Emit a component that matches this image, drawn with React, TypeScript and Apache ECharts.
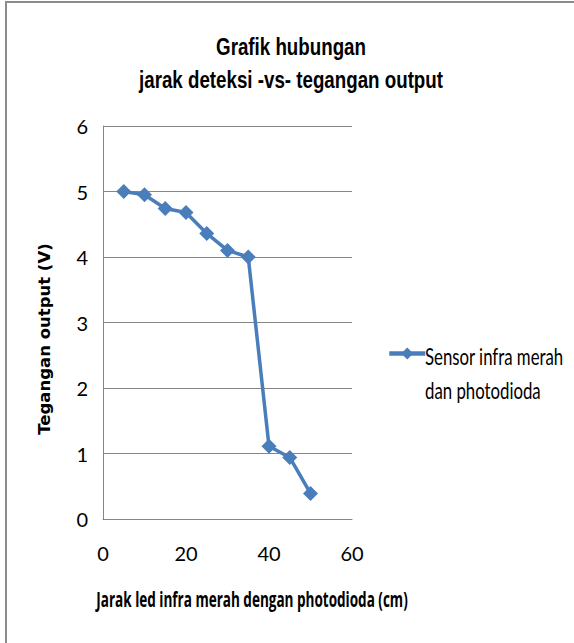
import React, { useEffect, useRef } from "react";
import * as echarts from "echarts";

const distances = [5, 10, 15, 20, 25, 30, 35, 40, 45, 50];
const voltages = [5.0, 4.95, 4.74, 4.68, 4.36, 4.1, 4.0, 1.11, 0.94, 0.39];
const seriesNameLines = ["Sensor infra merah", "dan photodioda"];
const titleLines = ["Grafik hubungan", "jarak deteksi -vs- tegangan output"];
const xName = "Jarak led infra merah dengan photodioda (cm)";
const yName = "Tegangan output (V)";

const sans = "'Liberation Sans', Arial, sans-serif";
const calib = "Lato, 'Open Sans', sans-serif";
const blue = "#4a7ebb";

function scaledText(text: string, x: number, y: number, sx: number, style: any, align = "center") {
  return {
    type: "group",
    x,
    y,
    scaleX: sx,
    children: [
      {
        type: "text",
        style: { text, align, verticalAlign: "middle", fill: "#000", ...style },
      },
    ],
  };
}

export default function App() {
  const ref = useRef<HTMLDivElement>(null);
  useEffect(() => {
    document.body.style.margin = "0";
    const chart = echarts.init(ref.current!, null, { renderer: "svg" });
    chart.setOption({
      animation: false,
      backgroundColor: "#ffffff",
      grid: { left: 103, right: 222, top: 126, bottom: 124, containLabel: false },
      xAxis: {
        type: "value",
        min: 0,
        max: 60,
        interval: 20,
        axisLine: { show: true, lineStyle: { color: "#868686", width: 1 } },
        axisTick: { show: false },
        splitLine: { show: false },
        axisLabel: { margin: 24, fontFamily: calib, fontSize: 20, color: "#000" },
      },
      yAxis: {
        type: "value",
        min: 0,
        max: 6,
        interval: 1,
        axisLine: { show: true, lineStyle: { color: "#868686", width: 1 } },
        axisTick: { show: false },
        splitLine: { show: true, lineStyle: { color: "#868686", width: 1 } },
        axisLabel: { margin: 15, fontFamily: calib, fontSize: 20, color: "#000" },
      },
      legend: {
        orient: "vertical",
        left: 382,
        top: 341,
        padding: 5,
        itemWidth: 36,
        itemHeight: 15,
        formatter: () => "",
        lineStyle: { width: 4.5 },
        data: [seriesNameLines.join(" ")],
      },
      series: [
        {
          name: seriesNameLines.join(" "),
          type: "line",
          data: distances.map((d, i) => [d, voltages[i]]),
          symbol: "diamond",
          symbolSize: 15,
          itemStyle: { color: blue },
          lineStyle: { color: blue, width: 3.5 },
        },
      ],
      graphic: [
        {
          type: "rect",
          shape: { x: 6, y: 2, width: 620, height: 700 },
          style: { fill: "none", stroke: "#8c8c8c", lineWidth: 2 },
          silent: true,
        },
        scaledText(titleLines[0], 291, 47, 0.815, {
          fontFamily: sans,
          fontSize: 23,
          fontWeight: "bold",
        }),
        scaledText(titleLines[1], 291, 80, 0.815, {
          fontFamily: sans,
          fontSize: 23,
          fontWeight: "bold",
        }),
        scaledText(xName, 252, 598, 0.615, {
          fontFamily: "'Open Sans', sans-serif",
          fontSize: 22,
          fontWeight: "bold",
        }),
        scaledText(seriesNameLines[0], 425, 356, 0.73, { fontFamily: calib, fontSize: 23 }, "left"),
        scaledText(seriesNameLines[1], 425, 390, 0.73, { fontFamily: calib, fontSize: 23 }, "left"),
        {
          type: "text",
          x: 44,
          y: 339,
          rotation: Math.PI / 2,
          style: {
            text: yName,
            fontFamily: "'DejaVu Sans', sans-serif",
            fontSize: 16.5,
            fontWeight: "bold",
            fill: "#000",
            align: "center",
            verticalAlign: "middle",
          },
        },
      ],
    });
    return () => chart.dispose();
  }, []);
  return <div ref={ref} style={{ width: 574, height: 643 }} />;
}
